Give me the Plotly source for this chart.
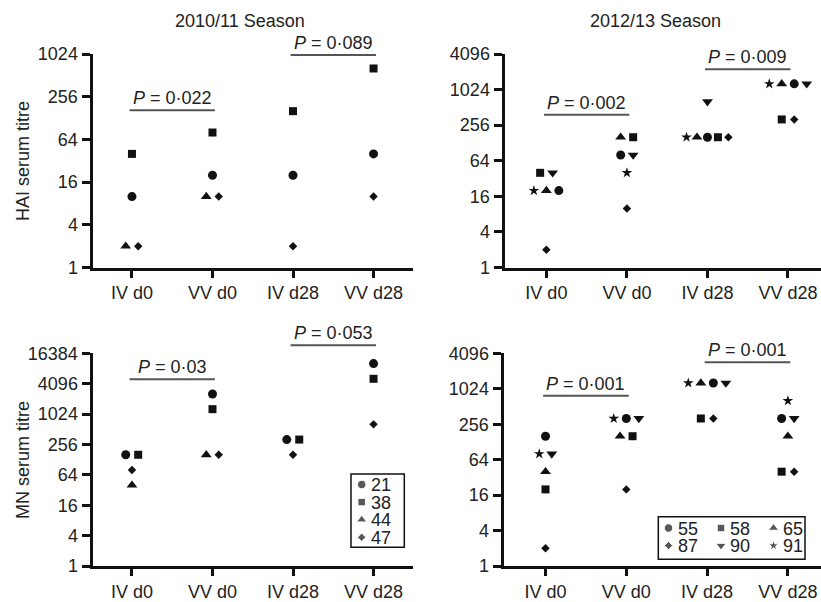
import math
import plotly.graph_objects as go

W, H = 821, 602
FONT = "Liberation Sans, Arial, Helvetica, sans-serif"
INK = "#111111"

# ---------------- data ----------------
categories = ["IV d0", "VV d0", "IV d28", "VV d28"]

subjects_1011 = ["21", "38", "44", "47"]
hai_1011_s21 = [10, 20, 20, 40]
hai_1011_s38 = [40, 80, 160, 640]
hai_1011_s44 = [2, 10, None, None]
hai_1011_s47 = [2, 10, 2, 10]
mn_1011_s21 = [160, 2560, 320, 10240]
mn_1011_s38 = [160, 1280, 320, 5120]
mn_1011_s44 = [40, 160, None, None]
mn_1011_s47 = [80, 160, 160, 640]

subjects_1213 = ["55", "58", "65", "87", "90", "91"]
hai_1213_s55 = [20, 80, 160, 1280]
hai_1213_s58 = [40, 160, 160, 320]
hai_1213_s65 = [20, 160, 160, 1280]
hai_1213_s87 = [2, 10, 160, 320]
hai_1213_s90 = [40, 80, 640, 1280]
hai_1213_s91 = [20, 40, 160, 1280]
mn_1213_s55 = [160, 320, 1280, 320]
mn_1213_s58 = [20, 160, 320, 40]
mn_1213_s65 = [40, 160, 1280, 160]
mn_1213_s87 = [2, 20, 320, 40]
mn_1213_s90 = [80, 320, 1280, 320]
mn_1213_s91 = [80, 320, 1280, 640]

ticks_hai_1011 = [1, 4, 16, 64, 256, 1024]
ticks_mn_1011 = [1, 4, 16, 64, 256, 1024, 4096, 16384]
ticks_1213 = [1, 4, 16, 64, 256, 1024, 4096]

p_hai_1011 = ["0·022", "0·089"]
p_mn_1011 = ["0·03", "0·053"]
p_hai_1213 = ["0·002", "0·009"]
p_mn_1213 = ["0·001", "0·001"]
p_pairs = [(0, 1), (2, 3)]

season_titles = ["2010/11 Season", "2012/13 Season"]
y_titles = ["HAI serum titre", "MN serum titre"]

# ---------------- styles / layout ----------------
SYMBOL = {"21": "circle", "38": "square", "44": "triangle-up", "47": "diamond",
          "55": "circle", "58": "square", "65": "triangle-up", "87": "diamond",
          "90": "triangle-down", "91": "star"}
SIZE = {"circle": 9, "square": 8, "triangle-up": 9.5, "diamond": 6.5,
        "triangle-down": 9.5, "star": 8}
LEG_SIZE = {"circle": 8.5, "square": 7.5, "triangle-up": 9, "diamond": 6.5,
            "triangle-down": 9, "star": 8}

panels = [
    dict(series=dict(zip(subjects_1011, [hai_1011_s21, hai_1011_s38, hai_1011_s44, hai_1011_s47])),
         order=["21", "38", "44", "47"], ticks=ticks_hai_1011, pv=p_hai_1011,
         px=(92.5, 413), py=(54, 267.5), xr=(-0.49, 3.49), plev=(0.736, 0.995)),
    dict(series=dict(zip(subjects_1213, [hai_1213_s55, hai_1213_s58, hai_1213_s65, hai_1213_s87, hai_1213_s90, hai_1213_s91])),
         order=["91", "65", "55", "58", "87", "90"], ticks=ticks_1213, pv=p_hai_1213,
         px=(504.5, 821), py=(54, 267.5), xr=(-0.52, 3.41), plev=(0.716, 0.929)),
    dict(series=dict(zip(subjects_1011, [mn_1011_s21, mn_1011_s38, mn_1011_s44, mn_1011_s47])),
         order=["21", "38", "44", "47"], ticks=ticks_mn_1011, pv=p_mn_1011,
         px=(92.5, 413), py=(353.3, 566), xr=(-0.49, 3.49), plev=(0.878, 1.038)),
    dict(series=dict(zip(subjects_1213, [mn_1213_s55, mn_1213_s58, mn_1213_s65, mn_1213_s87, mn_1213_s90, mn_1213_s91])),
         order=["91", "65", "55", "58", "87", "90"], ticks=ticks_1213, pv=p_mn_1213,
         px=(503.5, 821), py=(353.3, 566), xr=(-0.52, 3.41), plev=(0.801, 0.958)),
]


def jitter(series, order):
    xs = {s: [None] * len(categories) for s in series}
    for i in range(len(categories)):
        groups = {}
        for s in order:
            v = series[s][i]
            if v is None:
                continue
            groups.setdefault(v, []).append(s)
        for members in groups.values():
            n = len(members)
            gap = min(0.155, 0.52 / (n - 1)) if n > 1 else 0
            for k, s in enumerate(members):
                xs[s][i] = i + (k - (n - 1) / 2) * gap
    return xs


fig = go.Figure()
annotations = []
shapes = []

for idx, p in enumerate(panels):
    n = idx + 1
    xa = "x" if n == 1 else f"x{n}"
    ya = "y" if n == 1 else f"y{n}"
    xs = jitter(p["series"], p["order"])
    for s, vals in p["series"].items():
        sym = SYMBOL[s]
        fig.add_trace(go.Scatter(
            x=xs[s], y=vals, mode="markers", xaxis=xa, yaxis=ya, showlegend=False,
            cliponaxis=False, name=s,
            marker=dict(symbol=sym, size=SIZE[sym], color=INK, line=dict(width=0))))
    axis_common = dict(showline=True, linewidth=3, linecolor=INK, ticks="outside",
                       tickwidth=3, tickcolor=INK, showgrid=False, zeroline=False,
                       automargin=False,
                       tickfont=dict(family=FONT, size=18, color="#222"))
    fig.update_layout({
        ("xaxis" if n == 1 else f"xaxis{n}"): dict(
            axis_common, domain=[p["px"][0] / W, p["px"][1] / W], anchor=ya,
            range=list(p["xr"]), tickvals=list(range(len(categories))),
            ticktext=categories, ticklen=7),
        ("yaxis" if n == 1 else f"yaxis{n}"): dict(
            axis_common, domain=[1 - p["py"][1] / H, 1 - p["py"][0] / H], anchor=xa,
            type="log", range=[0, math.log10(p["ticks"][-1])],
            tickvals=p["ticks"], ticktext=[str(t) for t in p["ticks"]], ticklen=8),
    })
    for (a, b), pv, lev in zip(p_pairs, p["pv"], p["plev"]):
        shapes.append(dict(type="line", xref=xa, yref=f"{ya} domain",
                           x0=a - 0.03, x1=b + 0.03, y0=lev, y1=lev,
                           line=dict(color="#555", width=2)))
        annotations.append(dict(xref=xa, yref=f"{ya} domain", x=(a + b) / 2, y=lev,
                                xanchor="center", yanchor="bottom", showarrow=False,
                                text=f"<i>P</i> = {pv}", yshift=0,
                                font=dict(family=FONT, size=18, color="#222")))

# season titles and y titles
for t, xc in zip(season_titles, [239.5, 655]):
    annotations.append(dict(xref="paper", yref="paper", x=xc / W, y=1 - 21 / H,
                            xanchor="center", yanchor="middle", showarrow=False, text=t,
                            font=dict(family=FONT, size=18, color="#222")))
for t, yc in zip(y_titles, [161, 460]):
    annotations.append(dict(xref="paper", yref="paper", x=23 / W, y=1 - yc / H,
                            xanchor="center", yanchor="middle", showarrow=False, text=t,
                            textangle=-90, font=dict(family=FONT, size=18, color="#222")))

# ---------------- hand-placed legends on a pixel overlay axis ----------------
legends = [
    dict(subjects=subjects_1011, ncol=1, box=(351, 474, 404.3, 547.3), x0=361.7, y0=484.5,
         dx=52.5, dy=17.6),
    dict(subjects=subjects_1213, ncol=3, box=(658.3, 516.7, 805, 559.3), x0=668.5, y0=528,
         dx=52.5, dy=17.6),
]
for lg in legends:
    lx, ly, lsym = [], [], []
    for k, s in enumerate(lg["subjects"]):
        c, r = k % lg["ncol"], k // lg["ncol"]
        mx = lg["x0"] + c * lg["dx"]
        my = lg["y0"] + r * lg["dy"]
        lx.append(mx)
        ly.append(my)
        lsym.append(SYMBOL[s])
        annotations.append(dict(xref="x5", yref="y5", x=mx + 8, y=my, xanchor="left",
                                yanchor="middle", showarrow=False, text=s, borderpad=0,
                                height=17, valign="middle",
                                font=dict(family=FONT, size=18, color="#222")))
    fig.add_trace(go.Scatter(x=lx, y=ly, mode="markers", xaxis="x5", yaxis="y5",
                             showlegend=False, hoverinfo="skip", cliponaxis=False,
                             marker=dict(symbol=lsym, size=[LEG_SIZE[q] for q in lsym],
                                         color=INK)))
    bx0, by0, bx1, by1 = lg["box"]
    shapes.append(dict(type="rect", xref="x5", yref="y5", x0=bx0, x1=bx1, y0=by0, y1=by1,
                       line=dict(color=INK, width=1.5), fillcolor="rgba(0,0,0,0)"))

fig.update_layout(
    xaxis5=dict(domain=[0, 1], range=[0, W], visible=False, fixedrange=True, anchor="y5",
                automargin=False),
    yaxis5=dict(domain=[0, 1], range=[H, 0], visible=False, fixedrange=True, anchor="x5",
                automargin=False),
)

fig.update_layout(
    width=W, height=H, autosize=False,
    margin=dict(l=0, r=0, t=0, b=0, pad=0),
    paper_bgcolor="white", plot_bgcolor="rgba(0,0,0,0)",
    font=dict(family=FONT, size=18, color="#222"),
    annotations=annotations, shapes=shapes, showlegend=False,
)

fig.write_html(
    "out.html",
    include_plotlyjs=True,
    config={"responsive": False, "displayModeBar": False},
    post_script="document.body.style.margin='0px';document.body.style.overflow='hidden';",
)
